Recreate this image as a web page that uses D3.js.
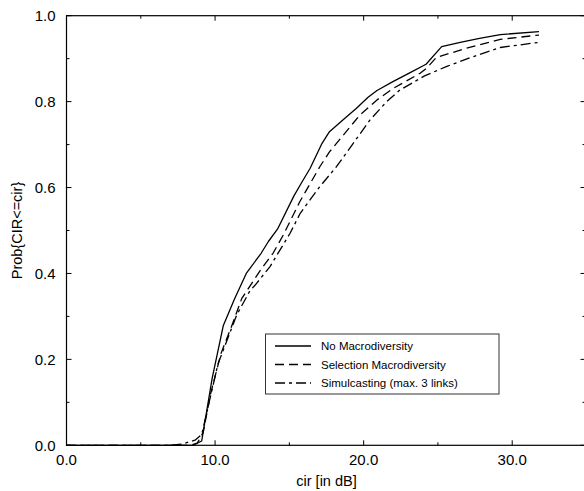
<!DOCTYPE html>
<html>
<head>
<meta charset="utf-8">
<script src="https://cdn.jsdelivr.net/npm/d3@7"></script>
<style>
  html, body { margin: 0; padding: 0; background: #fff; }
  svg { display: block; }
  text { font-family: "Liberation Sans", Arial, Helvetica, sans-serif; fill: #000; }
</style>
</head>
<body>
<svg id="chart" width="584" height="491"></svg>
<script>
// ---- data ----
const seriesNames = ["No Macrodiversity", "Selection Macrodiversity", "Simulcasting (max. 3 links)"];

const noMacro = [
  [0,0],[8.5,0],[9.1,0.01],[9.8,0.155],[10.55,0.278],[11.3,0.34],[12.1,0.40],[13.1,0.447],
  [13.6,0.475],[14.2,0.503],[15.3,0.58],[15.8,0.61],[16.4,0.645],[17.2,0.703],[17.7,0.73],
  [18.6,0.757],[19.5,0.784],[20.3,0.81],[20.9,0.826],[22.0,0.847],[23.1,0.867],[24.2,0.887],
  [25.25,0.928],[26.5,0.938],[27.8,0.947],[29.2,0.956],[31.8,0.963]
];
const selection = [
  [0,0],[8.3,0],[8.8,0.005],[9.2,0.03],[9.7,0.12],[10.4,0.214],[11.1,0.276],[11.8,0.342],
  [13.1,0.41],[13.9,0.447],[14.6,0.49],[15.7,0.567],[17.06,0.649],[17.7,0.683],[19.75,0.769],
  [20.9,0.804],[22.0,0.831],[23.8,0.866],[24.24,0.878],[24.9,0.903],[26.9,0.924],[29.2,0.945],
  [31.8,0.955]
];
const simulcast = [
  [0,0],[7.0,0],[7.8,0.003],[8.65,0.012],[9.1,0.025],[10.2,0.19],[11.2,0.28],[11.45,0.303],
  [12.35,0.36],[12.7,0.373],[13.7,0.416],[14.03,0.435],[15.04,0.493],[15.73,0.54],[17.0,0.6],
  [18.18,0.649],[19.3,0.703],[20.42,0.757],[21.55,0.80],[22.44,0.827],[24.1,0.86],[25.6,0.882],
  [27.4,0.905],[29.2,0.926],[31.8,0.938]
];
const xTicks = [0, 5, 10, 15, 20, 25, 30, 35];
const xTickLabels = ["0.0", "", "10.0", "", "20.0", "", "30.0", ""];
const yTicks = [0, 0.1, 0.2, 0.3, 0.4, 0.5, 0.6, 0.7, 0.8, 0.9, 1.0];
const yTickLabels = ["0.0", "", "0.2", "", "0.4", "", "0.6", "", "0.8", "", "1.0"];
const xTitle = "cir [in dB]";
const yTitle = "Prob{CIR<=cir}";

// ---- layout ----
const svg = d3.select("#chart");
const L = 66.5, R = 586.5, T = 15.7, B = 445.3;
const x = d3.scaleLinear().domain([0, 35]).range([L, R]);
const y = d3.scaleLinear().domain([0, 1]).range([B, T]);

const dashes = [null, "9,5", "10,4,3,4"];
const series = [noMacro, selection, simulcast];

// curves
const line = d3.line().x(d => x(d[0])).y(d => y(d[1]));
series.forEach((s, i) => {
  svg.append("path").datum(s)
    .attr("d", line)
    .attr("fill", "none")
    .attr("stroke", "#000")
    .attr("stroke-width", 1.3)
    .attr("stroke-linejoin", "round")
    .attr("stroke-dasharray", dashes[i]);
});

// frame
svg.append("rect").attr("x", L).attr("y", T).attr("width", R - L).attr("height", B - T)
  .attr("fill", "none").attr("stroke", "#000").attr("stroke-width", 1.2);

const isMajorX = (d, i) => xTickLabels[i] !== "";
const isMajorY = (d, i) => yTickLabels[i] !== "";

// ticks: bottom & top
const g = svg.append("g");
xTicks.forEach((v, i) => {
  const len = isMajorX(v, i) ? 5 : 3;
  g.append("line").attr("x1", x(v)).attr("x2", x(v)).attr("y1", B).attr("y2", B - len)
    .attr("stroke", "#000").attr("stroke-width", 1);
  g.append("line").attr("x1", x(v)).attr("x2", x(v)).attr("y1", T).attr("y2", T + len)
    .attr("stroke", "#000").attr("stroke-width", 1);
  if (xTickLabels[i]) {
    g.append("text").attr("x", x(v)).attr("y", B + 19.5).attr("text-anchor", "middle")
      .attr("font-size", 15).text(xTickLabels[i]);
  }
});
// ticks: left & right
yTicks.forEach((v, i) => {
  const len = isMajorY(v, i) ? 5 : 3;
  g.append("line").attr("x1", L).attr("x2", L + len).attr("y1", y(v)).attr("y2", y(v))
    .attr("stroke", "#000").attr("stroke-width", 1);
  g.append("line").attr("x1", R).attr("x2", R - len - 1).attr("y1", y(v)).attr("y2", y(v))
    .attr("stroke", "#000").attr("stroke-width", 1);
  if (yTickLabels[i]) {
    g.append("text").attr("x", L - 11).attr("y", y(v)).attr("dy", "0.36em")
      .attr("text-anchor", "end").attr("font-size", 15).text(yTickLabels[i]);
  }
});

// axis titles
svg.append("text").attr("x", (L + R) / 2).attr("y", 486).attr("text-anchor", "middle")
  .attr("font-size", 14.5).text(xTitle);
svg.append("text").attr("transform", `translate(22,${(T + B) / 2}) rotate(-90)`)
  .attr("text-anchor", "middle").attr("font-size", 14.5).text(yTitle);

// legend
const lg = svg.append("g");
lg.append("rect").attr("x", 265.5).attr("y", 334).attr("width", 233.5).attr("height", 60)
  .attr("fill", "#fff").attr("stroke", "#333").attr("stroke-width", 1);
seriesNames.forEach((n, i) => {
  const yy = 346 + i * 18.5;
  lg.append("line").attr("x1", 275).attr("x2", 311).attr("y1", yy).attr("y2", yy)
    .attr("stroke", "#000").attr("stroke-width", 1.3).attr("stroke-dasharray", dashes[i]);
  lg.append("text").attr("x", 321).attr("y", yy).attr("dy", "0.35em")
    .attr("font-size", 11.5).text(n);
});
</script>
</body>
</html>
